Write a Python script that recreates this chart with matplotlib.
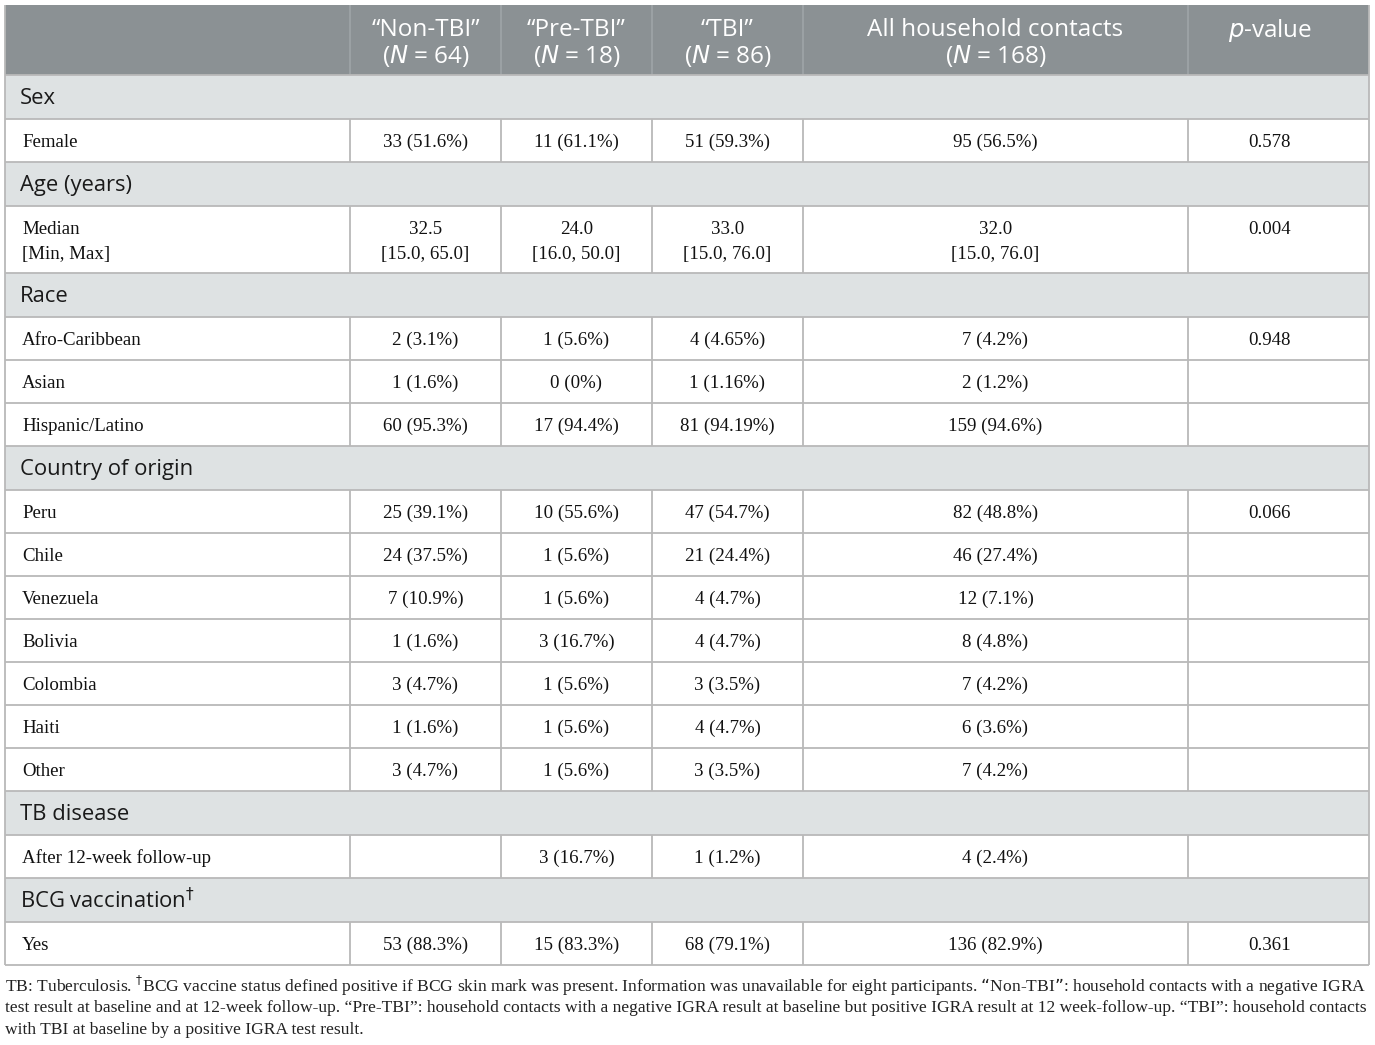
import matplotlib.pyplot as plt
from matplotlib.patches import Rectangle

# table content
header_top = ["\u201cNon-TBI\u201d", "\u201cPre-TBI\u201d", "\u201cTBI\u201d", "All household contacts"]
header_n = [64, 18, 86, 168]

sections = ["Sex", "Age (years)", "Race", "Country of origin", "TB disease", "BCG vaccination"]

sex_rows = [["Female", "33 (51.6%)", "11 (61.1%)", "51 (59.3%)", "95 (56.5%)", "0.578"]]
age_rows = [["Median\n[Min, Max]", "32.5\n[15.0, 65.0]", "24.0\n[16.0, 50.0]",
             "33.0\n[15.0, 76.0]", "32.0\n[15.0, 76.0]", "0.004"]]
race_rows = [
    ["Afro-Caribbean", "2 (3.1%)", "1 (5.6%)", "4 (4.65%)", "7 (4.2%)", "0.948"],
    ["Asian", "1 (1.6%)", "0 (0%)", "1 (1.16%)", "2 (1.2%)", ""],
    ["Hispanic/Latino", "60 (95.3%)", "17 (94.4%)", "81 (94.19%)", "159 (94.6%)", ""],
]
country_rows = [
    ["Peru", "25 (39.1%)", "10 (55.6%)", "47 (54.7%)", "82 (48.8%)", "0.066"],
    ["Chile", "24 (37.5%)", "1 (5.6%)", "21 (24.4%)", "46 (27.4%)", ""],
    ["Venezuela", "7 (10.9%)", "1 (5.6%)", "4 (4.7%)", "12 (7.1%)", ""],
    ["Bolivia", "1 (1.6%)", "3 (16.7%)", "4 (4.7%)", "8 (4.8%)", ""],
    ["Colombia", "3 (4.7%)", "1 (5.6%)", "3 (3.5%)", "7 (4.2%)", ""],
    ["Haiti", "1 (1.6%)", "1 (5.6%)", "4 (4.7%)", "6 (3.6%)", ""],
    ["Other", "3 (4.7%)", "1 (5.6%)", "3 (3.5%)", "7 (4.2%)", ""],
]
tb_rows = [["After 12-week follow-up", "", "3 (16.7%)", "1 (1.2%)", "4 (2.4%)", ""]]
bcg_rows = [["Yes", "53 (88.3%)", "15 (83.3%)", "68 (79.1%)", "136 (82.9%)", "0.361"]]

footnote = [
    "TB: Tuberculosis. $^{\u2020}$BCG vaccine status defined positive if BCG skin mark was present. Information was unavailable for eight participants. \u201cNon-TBI\u201d: household contacts with a negative IGRA",
    "test result at baseline and at 12-week follow-up. \u201cPre-TBI\u201d: household contacts with a negative IGRA result at baseline but positive IGRA result at 12 week-follow-up. \u201cTBI\u201d: household contacts",
    "with TBI at baseline by a positive IGRA test result.",
]

# layout (pixels)
col_x = [5, 350, 501, 652, 803, 1188, 1369]
text_x = [None, 425.5, 576.5, 727.5, 995.5, 1270]
head_bg = "#8b9194"
sect_bg = "#dee2e3"
grid = "#b9b9b9"
sans = ["Open Sans", "DejaVu Sans"]
serif = ["Liberation Serif", "DejaVu Serif"]

fig = plt.figure(figsize=(13.75, 10.45), dpi=100)
ax = fig.add_axes([0, 0, 1, 1])
ax.set_xlim(0, 1375)
ax.set_ylim(1045, 0)
ax.axis("off")

def hline(y, x0=col_x[0], x1=col_x[-1]):
    ax.plot([x0, x1], [y, y], color=grid, lw=1.3, solid_capstyle="butt")

def vline(x, y0, y1, color=grid):
    ax.plot([x, x], [y0, y1], color=color, lw=1.3, solid_capstyle="butt")

# header
y = 5
hh = 70
ax.add_patch(Rectangle((col_x[0], y), col_x[-1] - col_x[0], hh, facecolor=head_bg, edgecolor="none"))
for i, (t, n) in enumerate(zip(header_top, header_n)):
    cx = text_x[i + 1]
    ax.text(cx, y + 25, t, ha="center", va="center", color="white", fontsize=17.5, family=sans)
    ax.text(cx, y + 51, "($N$ = %d)" % n, ha="center", va="center", color="white", fontsize=17.5, family=sans)
ax.text(text_x[5], y + 25, "$p$-value", ha="center", va="center", color="white", fontsize=17.5, family=sans)
for x in col_x[1:-1]:
    vline(x, y, y + hh, color="#9da3a6")
y += hh

sect_h = 44
row_h = 43
groups = [sex_rows, age_rows, race_rows, country_rows, tb_rows, bcg_rows]
for name, rows in zip(sections, groups):
    ax.add_patch(Rectangle((col_x[0], y), col_x[-1] - col_x[0], sect_h, facecolor=sect_bg, edgecolor="none"))
    label = name + "$^{\u2020}$" if name.startswith("BCG") else name
    ax.text(col_x[0] + 15, y + sect_h / 2 + 1, label, ha="left", va="center", fontsize=15.8, family=sans, color="#1a1a1a")
    hline(y)
    y += sect_h
    for r in rows:
        h = 67 if "\n" in r[0] else row_h
        hline(y)
        for j, val in enumerate(r):
            if "\n" in r[0]:
                ty = y + 15
                va = "top"
            else:
                ty = y + h / 2 + 2
                va = "center"
            if j == 0:
                ax.text(col_x[0] + 17, ty, val, ha="left", va=va, fontsize=13.6, family=serif,
                        color="#111111", linespacing=1.62)
            else:
                ax.text(text_x[j], ty, val, ha="center", va=va, fontsize=13.6, family=serif,
                        color="#111111", linespacing=1.62)
        for x in col_x[1:-1]:
            vline(x, y, y + h)
        y += h
hline(y)
vline(col_x[0], 5, y)
vline(col_x[-1], 5, y)

# footnote
for k, line in enumerate(footnote):
    ax.text(5, 986 + 22 * k, line, ha="left", va="center", fontsize=12.6, family=serif, color="#222222")

fig.savefig("out.png", dpi=100)
